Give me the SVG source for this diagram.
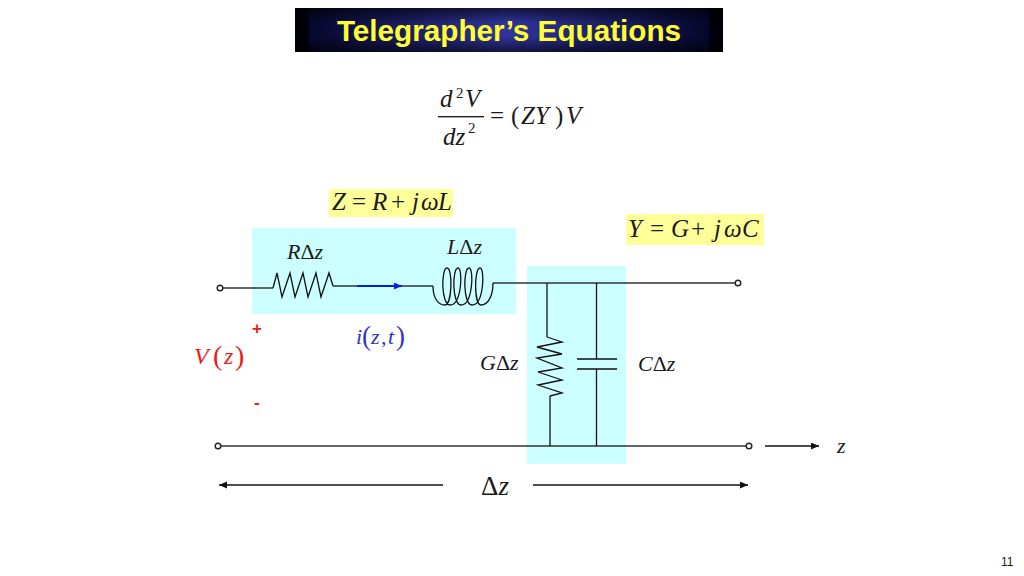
<svg xmlns="http://www.w3.org/2000/svg" width="1024" height="576" viewBox="0 0 1024 576">
<style>
text{font-family:"Liberation Serif","Times New Roman",serif;fill:#1a1a1a}
.s{font-family:"Liberation Sans",Arial,sans-serif}
.i{font-style:italic}
.m{font-size:25px}
.l{font-size:22px}
.w{fill:none;stroke:#333;stroke-width:1.5}
.k{fill:none;stroke:#111;stroke-width:1.3}
.o{fill:#fff;stroke:#222;stroke-width:1.4}
.cy{fill:#ccffff}
.ye{fill:#ffff99}
.r{fill:#f01818}
.b{fill:#3333bb}
</style>
<defs>
<linearGradient id="tg" x1="0" x2="1" y1="0" y2="0">
<stop offset="0" stop-color="#000008"/><stop offset="0.03" stop-color="#000010"/><stop offset="0.034" stop-color="#06072c"/><stop offset="0.5" stop-color="#30349c"/><stop offset="0.966" stop-color="#06072c"/><stop offset="0.97" stop-color="#000010"/><stop offset="1" stop-color="#000008"/>
</linearGradient>
<linearGradient id="tv" x1="0" x2="0" y1="0" y2="1">
<stop offset="0" stop-color="#000" stop-opacity=".6"/><stop offset="0.35" stop-color="#000" stop-opacity="0"/><stop offset="0.65" stop-color="#000" stop-opacity="0"/><stop offset="1" stop-color="#000" stop-opacity=".6"/>
</linearGradient>
<marker id="ah" markerWidth="9" markerHeight="8" refX="8" refY="3.5" orient="auto" markerUnits="userSpaceOnUse"><path d="M0,0L8,3.5L0,7z" fill="#111"/></marker>
<marker id="ab" markerWidth="9" markerHeight="8" refX="8" refY="3.5" orient="auto" markerUnits="userSpaceOnUse"><path d="M0,0L8,3.5L0,7z" fill="#0a1fd0"/></marker>
</defs>
<rect width="1024" height="576" fill="#fff"/>
<g id="title"><rect x="295" y="8" width="428" height="44" fill="url(#tg)"/><rect x="295" y="8" width="428" height="44" fill="url(#tv)"/>
<text class="s" x="509" y="41" text-anchor="middle" font-weight="bold" font-size="29.7" style="fill:#ffff33">Telegrapher’s Equations</text></g>
<g id="equation">
<text class="i m" x="440" y="107">d</text><text x="456" y="98" font-size="15">2</text><text class="i m" x="465" y="107">V</text>
<rect x="438" y="116" width="46" height="1.4" fill="#222"/>
<text class="i m" x="443" y="145">dz</text><text x="468" y="133" font-size="15">2</text>
<text class="m" x="490" y="124">=</text><text class="m" x="511" y="124">(</text><text class="i m" x="521" y="124">ZY</text><text class="m" x="555" y="124">)</text><text class="i m" x="566" y="124">V</text>
</g>
<g id="panel-series"><rect class="cy" x="252" y="228" width="264" height="86"/></g>
<g id="panel-shunt"><rect class="cy" x="527" y="266" width="99" height="198"/></g>
<g id="label-Z"><rect class="ye" x="329" y="189" width="124" height="28"/>
<text class="m" y="210"><tspan class="i" x="332">Z</tspan><tspan x="352">=</tspan><tspan class="i" x="372">R</tspan><tspan x="391">+</tspan><tspan class="i" x="412">j</tspan><tspan class="i" x="421">ω</tspan><tspan class="i" x="438">L</tspan></text></g>
<g id="label-Y"><rect class="ye" x="626" y="214" width="138" height="31"/>
<text class="m" y="237"><tspan class="i" x="628">Y</tspan><tspan x="650">=</tspan><tspan class="i" x="671">G</tspan><tspan x="691">+</tspan><tspan class="i" x="714">j</tspan><tspan class="i" x="724">ω</tspan><tspan class="i" x="742">C</tspan></text></g>
<g id="connectors">
<path class="w" d="M223,288H273"/>
<path class="w" d="M333,286H433"/>
<path class="w" d="M493,283H735"/>
<path class="w" d="M221,446H746"/>
<path class="k" d="M547,283V337"/>
<path class="k" d="M550,396V446"/>
<path class="k" d="M596.5,283V359M596.5,369V446"/>
<path d="M357,286H402" fill="none" stroke="#0a1fd0" stroke-width="2.2" marker-end="url(#ab)"/>
<path class="k" d="M765,446H819" marker-end="url(#ah)"/>
<path class="k" d="M443,485H219" marker-end="url(#ah)"/>
<path class="k" d="M533,485H748" marker-end="url(#ah)"/>
</g>
<g id="resistor-R"><path class="k" d="M273,288L277,273L282,297L290,273L295,297L303,273L308,297L316,273L321,297L329,273L333,286"/></g>
<g id="inductor-L"><path class="k" d="M433,286C433,298 438,305 445,305C452,305 453,268 447,268C441,268 441,305 450,305C462,305 463,268 458,268C452,268 452,305 461,305C473,305 474,268 469,268C463,268 463,305 472,305C484,305 485,268 480,268C474,268 474,305 481,305C488,305 493,296 493,283"/></g>
<g id="resistor-G"><path class="k" d="M547,337L562,342L537,347L562,354L537,358L562,368L538,372L562,380L538,385L562,393L550,396"/></g>
<g id="capacitor-C"><path class="k" d="M577,359H617M577,369H617"/></g>
<g id="terminals">
<circle class="o" cx="220" cy="288" r="2.8"/>
<circle class="o" cx="738" cy="283" r="2.8"/>
<circle class="o" cx="218" cy="446" r="2.8"/>
<circle class="o" cx="749" cy="446" r="2.8"/>
</g>
<g id="labels">
<text class="l" x="287" y="259"><tspan class="i">R</tspan>Δ<tspan class="i">z</tspan></text>
<text class="l" x="447" y="254"><tspan class="i">L</tspan>Δ<tspan class="i">z</tspan></text>
<text class="l" x="480" y="370"><tspan class="i">G</tspan>Δ<tspan class="i">z</tspan></text>
<text class="l" x="638" y="371"><tspan class="i">C</tspan>Δ<tspan class="i">z</tspan></text>
<text class="b l" y="344"><tspan class="i" x="356">i</tspan><tspan font-size="27" x="362" dy="1">(</tspan><tspan class="i" x="371" dy="-1">z</tspan><tspan x="381">,</tspan><tspan class="i" x="388">t</tspan><tspan font-size="27" x="396" dy="1">)</tspan></text>
<text class="r" font-size="24" y="364"><tspan class="i" x="194">V</tspan><tspan font-size="28" x="213" dy="1">(</tspan><tspan class="i" x="224" dy="-1">z</tspan><tspan font-size="28" x="235" dy="1">)</tspan></text>
<text class="s r" x="252" y="334" font-size="17" font-weight="bold">+</text>
<text class="s r" x="254" y="408" font-size="17" font-weight="bold">-</text>
<text class="i" font-size="22" x="837" y="453">z</text>
<text font-size="27" x="481" y="495">Δ<tspan class="i">z</tspan></text>
<text class="s" x="1001" y="566" font-size="12">11</text>
</g>
</svg>
